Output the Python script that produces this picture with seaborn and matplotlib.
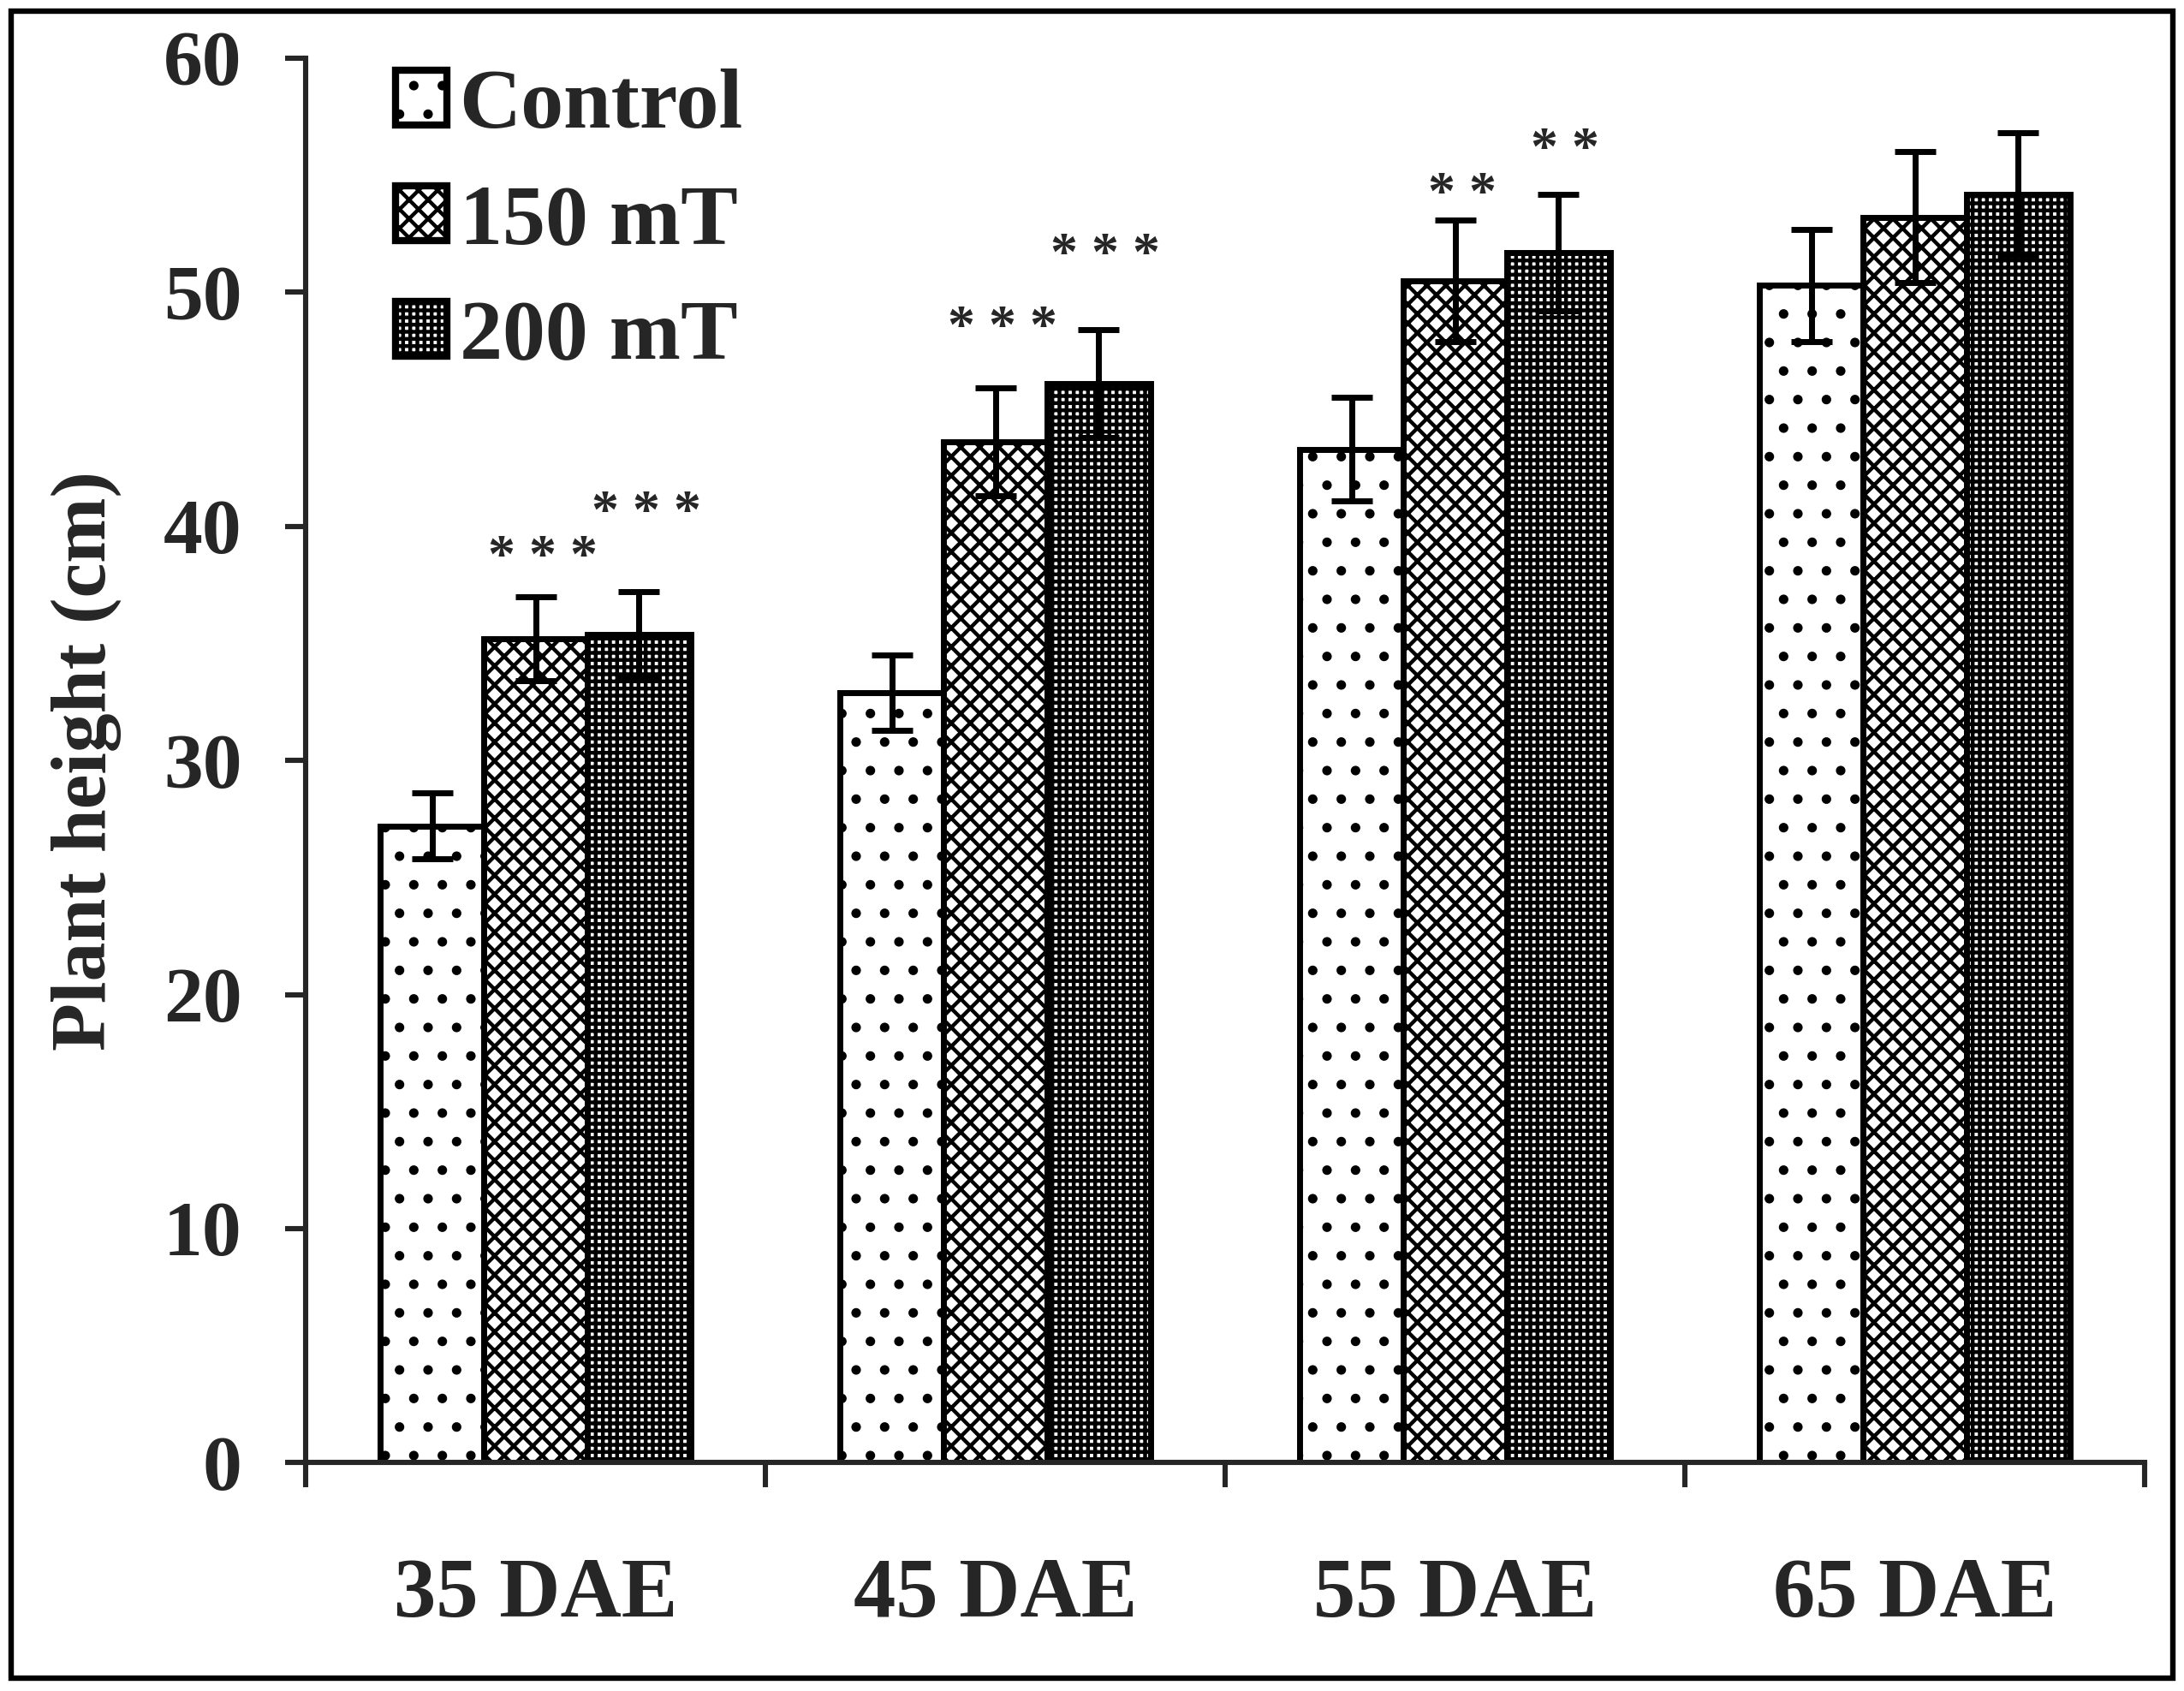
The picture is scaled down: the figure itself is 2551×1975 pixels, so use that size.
import pandas as pd
import matplotlib.pyplot as plt
import matplotlib.patches as mpatches
import seaborn as sns

# Plant height per stage and treatment
stages = ["35 DAE", "45 DAE", "55 DAE", "65 DAE"]
treatments = ["Control", "150 mT", "200 mT"]
control = [27.2, 32.9, 43.3, 50.3]
mt150 = [35.2, 43.6, 50.5, 53.2]
mt200 = [35.4, 46.1, 51.7, 54.2]
control_err = [1.4, 1.6, 2.2, 2.4]
mt150_err = [1.8, 2.3, 2.6, 2.8]
mt200_err = [1.8, 2.3, 2.5, 2.6]

# Significance marks
star_text = ["***", "***", "***", "***", "**", "**"]
star_stage = [0, 0, 1, 1, 2, 2]
star_treat = [1, 2, 1, 2, 1, 2]
star_y = [38.6, 40.5, 48.4, 51.5, 54.1, 56.0]

rows = []
for vals, errs, t in zip([control, mt150, mt200], [control_err, mt150_err, mt200_err], treatments):
    for s, v, e in zip(stages, vals, errs):
        rows.append({"stage": s, "treatment": t, "height": v, "err": e})
df = pd.DataFrame(rows)

sns.set_style("ticks")
plt.rcParams["font.family"] = ["Liberation Serif", "DejaVu Serif"]
plt.rcParams["font.weight"] = "bold"
plt.rcParams["hatch.linewidth"] = 1.6
plt.rcParams["hatch.color"] = "black"

fig = plt.figure(figsize=(12.755, 9.875), dpi=200)
ax = fig.add_axes([0.140, 0.135, 0.842, 0.8306])

sns.barplot(data=df, x="stage", y="height", hue="treatment", order=stages,
            hue_order=treatments, palette=["white"] * 3, width=0.675,
            errorbar=None, edgecolor="black", linewidth=2.5, ax=ax)

hatches = [".", "xxx", "++++"]
for cont, h in zip(ax.containers, hatches):
    for bar in cont:
        bar.set_hatch(h)

# error bars placed at the bar centres computed by seaborn
errs_all = [control_err, mt150_err, mt200_err]
centers = []
for cont, vals, errs in zip(ax.containers, [control, mt150, mt200], errs_all):
    xs = [b.get_x() + b.get_width() / 2 for b in cont]
    centers.append(xs)
    ax.errorbar(xs, vals, yerr=errs, fmt="none", ecolor="black",
                elinewidth=2.5, capsize=8.5, capthick=2.5, zorder=5)

for txt, si, ti, y in zip(star_text, star_stage, star_treat, star_y):
    ax.text(centers[ti][si] + 0.015, y, " ".join(txt), ha="center", va="center",
            fontsize=23, fontweight="bold")

ax.set_ylim(0, 60)
ax.set_xlim(-0.5, 3.5)
ax.set_yticks(range(0, 61, 10))
ax.set_xticks(range(4))
ax.set_xticks([-0.5, 0.5, 1.5, 2.5, 3.5], minor=True)
ax.tick_params(axis="x", which="major", length=0, pad=40, labelsize=35.5)
ax.tick_params(axis="x", which="minor", length=10.5, width=2.2, direction="out")
ax.tick_params(axis="y", length=8.8, width=2.2, pad=18, labelsize=33)
for lab in ax.get_xticklabels() + ax.get_yticklabels():
    lab.set_fontweight("bold")

sns.despine(ax=ax)
for sp in ["left", "bottom"]:
    ax.spines[sp].set_linewidth(2.2)

ax.set_xlabel("")
ax.set_ylabel("Plant height (cm)", fontsize=33, fontweight="bold")
ax.yaxis.set_label_coords(-0.10, 0.5)

leg = ax.legend(loc="upper left", bbox_to_anchor=(0.03, 1.017), frameon=False,
                fontsize=36, handlelength=0.6, handleheight=0.6,
                handletextpad=0.15, labelspacing=0.45, borderaxespad=0)
for t in leg.get_texts():
    t.set_fontweight("bold")
for hnd, h in zip(leg.legend_handles, hatches):
    hnd.set_facecolor("white")
    hnd.set_edgecolor("black")
    hnd.set_hatch(h)
    hnd.set_linewidth(3)

fig.patches.append(mpatches.Rectangle((0.005, 0.0075), 0.99, 0.986,
                                      transform=fig.transFigure, fill=False,
                                      edgecolor="black", linewidth=2.3))

fig.savefig("out.png", dpi=200)
